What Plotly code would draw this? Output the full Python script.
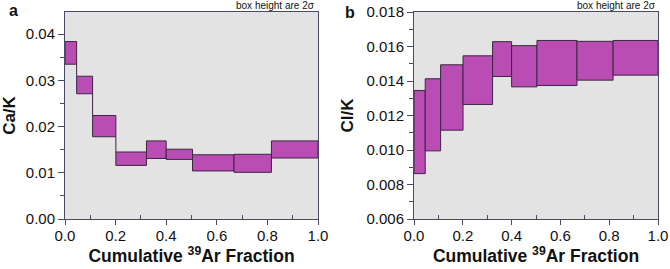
import plotly.graph_objects as go

# Cumulative 39Ar fraction step boundaries
edges = [0.0, 0.046, 0.109, 0.201, 0.322, 0.400, 0.504, 0.668, 0.816, 1.0]

# Panel a: Ca/K boxes (2-sigma lower / upper)
ca_lo = [0.0335, 0.0271, 0.0178, 0.0116, 0.0131, 0.0129, 0.0104, 0.0101, 0.0132]
ca_hi = [0.0384, 0.0309, 0.0224, 0.0145, 0.0169, 0.0151, 0.0139, 0.0140, 0.0169]

# Panel b: Cl/K boxes (2-sigma lower / upper)
cl_lo = [0.00863, 0.00995, 0.01115, 0.01264, 0.01426, 0.01366, 0.01374, 0.01405, 0.01434]
cl_hi = [0.01345, 0.01413, 0.01494, 0.01546, 0.01628, 0.01605, 0.01635, 0.01630, 0.01635]

ca_ticks = [0.00, 0.01, 0.02, 0.03, 0.04]
cl_ticks = [0.006, 0.008, 0.010, 0.012, 0.014, 0.016, 0.018]
x_ticks = [0.0, 0.2, 0.4, 0.6, 0.8, 1.0]

FILL = "#BA4DB4"
EDGE = "#3a2740"
AXC = "#4a4a66"
BG = "#E3E3E3"
FONT = "Liberation Sans, Arial, sans-serif"
W, H = 670, 269

fig = go.Figure()

def add_boxes(lo, hi, xa, ya):
    for i in range(len(lo)):
        x0, x1 = edges[i], edges[i + 1]
        fig.add_trace(go.Scatter(
            x=[x0, x1, x1, x0, x0], y=[lo[i], lo[i], hi[i], hi[i], lo[i]],
            mode="lines", fill="toself", fillcolor=FILL,
            line=dict(color=EDGE, width=1), xaxis=xa, yaxis=ya,
            hoverinfo="skip", showlegend=False))
    # vertical connectors where consecutive boxes don't overlap
    for i in range(len(lo) - 1):
        xb = edges[i + 1]
        if lo[i] > hi[i + 1]:
            ys = [lo[i], hi[i + 1]]
        elif hi[i] < lo[i + 1]:
            ys = [hi[i], lo[i + 1]]
        else:
            continue
        fig.add_trace(go.Scatter(x=[xb, xb], y=ys, mode="lines",
                                 line=dict(color=EDGE, width=1),
                                 xaxis=xa, yaxis=ya, hoverinfo="skip",
                                 showlegend=False))

add_boxes(ca_lo, ca_hi, "x", "y")
add_boxes(cl_lo, cl_hi, "x2", "y2")

tickfont = dict(family=FONT, size=15, color="#111")
xtitlefont = dict(family=FONT, size=17.5, color="#111", weight="bold")
ytitlefont = dict(family=FONT, size=17, color="#111", weight="bold")

xcommon = dict(range=[0, 1], tickvals=x_ticks, tickformat=".1f",
               ticks="outside", ticklen=5, tickcolor=AXC, tickwidth=1,
               showline=True, linecolor=AXC, linewidth=1, mirror=True,
               showgrid=False, zeroline=False, tickfont=tickfont,
               automargin=False, ticklabelstandoff=-2,
               minor=dict(tickvals=[0.1, 0.3, 0.5, 0.7, 0.9], ticks="inside",
                          ticklen=4, tickcolor=AXC),
               title=dict(text="Cumulative <sup>39</sup>Ar Fraction",
                          font=xtitlefont, standoff=2))

ycommon = dict(ticks="outside", ticklen=6, tickcolor=AXC, showline=True,
               linecolor=AXC, mirror=True, showgrid=False, zeroline=False,
               tickfont=tickfont, automargin=False)

fig.update_layout(
    width=W, height=H,
    margin=dict(l=0, r=0, t=0, b=0, autoexpand=False),
    paper_bgcolor="white", plot_bgcolor=BG,
    xaxis=dict(domain=[65 / W, 318 / W], anchor="y", **xcommon),
    xaxis2=dict(domain=[414 / W, 658 / W], anchor="y2", **xcommon),
    yaxis=dict(domain=[1 - 219 / H, 1 - 12 / H], anchor="x", range=[0, 0.0448],
               tickvals=ca_ticks, tickformat=".2f",
               minor=dict(dtick=0.005, tick0=0, ticks="outside", ticklen=4,
                          tickcolor=AXC),
               title=dict(text="Ca/K", font=ytitlefont, standoff=8), **ycommon),
    yaxis2=dict(domain=[1 - 219 / H, 1 - 12 / H], anchor="x2", range=[0.006, 0.018],
                tickvals=cl_ticks, tickformat=".3f",
                minor=dict(dtick=0.001, tick0=0.006, ticks="outside", ticklen=4,
                           tickcolor=AXC),
                title=dict(text="Cl/K", font=ytitlefont, standoff=8), **ycommon),
)

def px(x, y):
    return x / W, 1 - y / H

ann = []
for txt, (x, y), anchor, size, wt in [
    ("a", (13, 10), "center", 16, "bold"),
    ("b", (350, 12), "center", 16, "bold"),
    ("box height are 2σ", (317, 6), "right", 10, "normal"),
    ("box height are 2σ", (658, 6), "right", 10, "normal"),
]:
    xx, yy = px(x, y)
    ann.append(dict(text=txt, x=xx, y=yy, xref="paper", yref="paper",
                    xanchor=anchor, yanchor="middle", showarrow=False,
                    font=dict(family=FONT, size=size, color="#111", weight=wt)))
fig.update_layout(annotations=ann)

fig.write_html("out.html", config={"displayModeBar": False},
               post_script="document.body.style.margin='0';document.body.style.overflow='hidden';")
